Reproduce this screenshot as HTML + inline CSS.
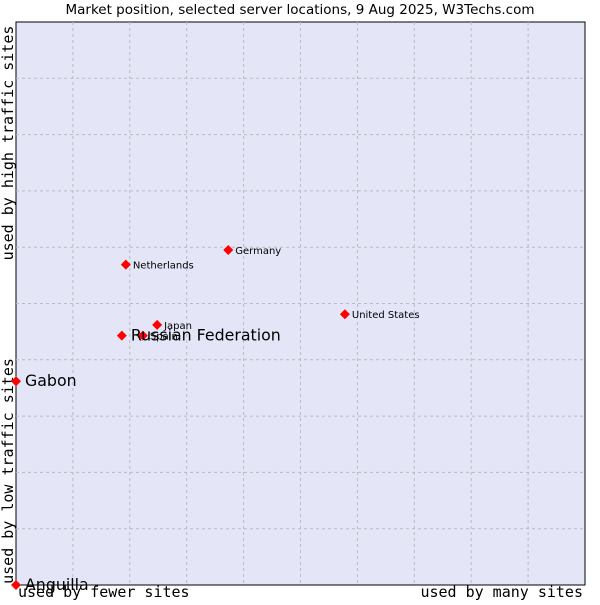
<!DOCTYPE html>
<html><head><meta charset="utf-8"><style>
body{margin:0;background:#fff;}
svg text{font-family:"DejaVu Sans","Liberation Sans",sans-serif;}
</style></head><body>
<svg id="chart" width="600" height="600" xmlns="http://www.w3.org/2000/svg">
<text x="300" y="14" text-anchor="middle" font-size="13.5" fill="#000">Market position, selected server locations, 9 Aug 2025, W3Techs.com</text>
<rect x="16" y="22" width="569" height="563" fill="#e4e6f8" stroke="#000" stroke-width="1"/>
<g id="grid"></g>
<text transform="translate(13,143) rotate(-90)" text-anchor="middle" font-size="15" style="font-family:'DejaVu Sans Mono','Liberation Mono',monospace">used by high traffic sites</text>
<text transform="translate(13,471) rotate(-90)" text-anchor="middle" font-size="15" style="font-family:'DejaVu Sans Mono','Liberation Mono',monospace">used by low traffic sites</text>
<text x="18" y="597" font-size="15" style="font-family:'DejaVu Sans Mono','Liberation Mono',monospace">used by fewer sites</text>
<text x="583" y="597" text-anchor="end" font-size="15" style="font-family:'DejaVu Sans Mono','Liberation Mono',monospace">used by many sites</text>
<g id="points"></g>
</svg>
<script>
const names = ["Germany","Netherlands","United States","Japan","Spain","Russian Federation","Gabon","Anguilla"];
const xVals = [37.3,19.3,57.8,24.8,22.3,18.6,0,0];
const yVals = [59.5,56.9,48.1,46.2,44.3,44.3,36.2,0];
const bigLabel = [false,false,false,false,false,true,true,true];
const L=16,T=22,W=569,H=563;
function sx(v){return L+v/100*W;}
function sy(v){return T+H-v/100*H;}
const ns="http://www.w3.org/2000/svg";
const grid=document.getElementById('grid');
for(let i=1;i<10;i++){
  const gx=document.createElementNS(ns,'line');
  const px=L+i*W/10;
  gx.setAttribute('x1',px);gx.setAttribute('x2',px);gx.setAttribute('y1',T);gx.setAttribute('y2',T+H);
  gx.setAttribute('stroke','#bbb');gx.setAttribute('stroke-dasharray','3,3');
  
  
  grid.appendChild(gx);
  const gy=document.createElementNS(ns,'line');
  const py=T+i*H/10;
  gy.setAttribute('x1',L);gy.setAttribute('x2',L+W);gy.setAttribute('y1',py);gy.setAttribute('y2',py);
  gy.setAttribute('stroke','#bbb');gy.setAttribute('stroke-dasharray','3,3');
  
  
  grid.appendChild(gy);
}
const pts=document.getElementById('points');
names.forEach((n,i)=>{
  const x=sx(xVals[i]),y=sy(yVals[i]);
  const d=document.createElementNS(ns,'polygon');
  d.setAttribute('points',`${x},${y-5} ${x+5},${y} ${x},${y+5} ${x-5},${y}`);
  d.setAttribute('fill','#f00');
  
  
  pts.appendChild(d);
  const t=document.createElementNS(ns,'text');
  t.setAttribute('x',x+(bigLabel[i]?9:7));
  t.setAttribute('y',y+(bigLabel[i]?5:4));
  t.setAttribute('font-size',bigLabel[i]?15.8:10);
  t.textContent=n;
  
  
  pts.appendChild(t);
});
</script>
</body></html>
